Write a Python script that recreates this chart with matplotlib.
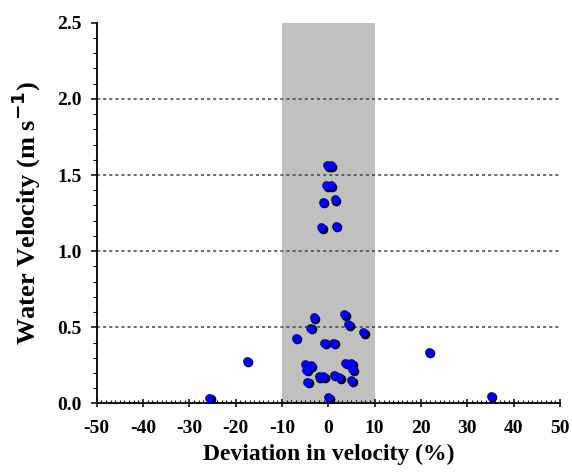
import matplotlib
matplotlib.use("Agg")
import matplotlib.pyplot as plt
import matplotlib.transforms as mtransforms
from matplotlib.ticker import MultipleLocator

deviation = [-25.7, -17.6, 35.1, 21.7, 0.0,
             -3.2, 3.4, -3.9, 4.3, 7.5, -7.0, -0.9, 1.1,
             -5.0, -3.8, -4.8, 3.7, 5.0, 5.2,
             -2.1, -1.1, 1.2, 2.4, -4.6, 4.9,
             -0.2, 0.5, -0.4, 0.5, -1.2, 1.4, -1.5, 1.6]
velocity = [0.038, 0.279, 0.05, 0.34, 0.04,
            0.566, 0.587, 0.497, 0.52, 0.467, 0.432, 0.40, 0.40,
            0.259, 0.25, 0.22, 0.268, 0.264, 0.224,
            0.18, 0.18, 0.187, 0.172, 0.143, 0.152,
            1.565, 1.565, 1.434, 1.434, 1.324, 1.342, 1.156, 1.167]
band = (-10, 10)
grid_levels = [0.5, 1.0, 1.5, 2.0]

plt.rcParams['font.family'] = ['Liberation Serif', 'DejaVu Serif']
plt.rcParams['font.weight'] = 'bold'
plt.rcParams['axes.unicode_minus'] = False

fig = plt.figure(figsize=(5.72, 4.73), dpi=100)
ax = fig.add_axes([0.169, 0.147, 0.810, 0.805])

ax.axvspan(band[0], band[1], color='#c0c0c0', zorder=0, lw=0)
for g in grid_levels:
    ax.axhline(g, color='#444444', ls=(0, (2, 2)), lw=1.1, zorder=1)

shadow = mtransforms.offset_copy(ax.transData, fig=fig, x=1.5, y=-1.5, units='dots')
ax.scatter(deviation, velocity, s=48, c='black', transform=shadow, zorder=3, lw=0)
ax.scatter(deviation, velocity, s=40, c='#0000f0', zorder=4, lw=0)

ax.set_xlim(-50, 50)
ax.set_ylim(0, 2.5)
ax.xaxis.set_major_locator(MultipleLocator(10))
ax.xaxis.set_minor_locator(MultipleLocator(1))
ax.yaxis.set_major_locator(MultipleLocator(0.5))
ax.yaxis.set_minor_locator(MultipleLocator(0.1))
ax.yaxis.set_major_formatter(plt.FuncFormatter(lambda v, p: f"{v:.1f}"))

for s in ['top', 'right']:
    ax.spines[s].set_visible(False)
for s in ['left', 'bottom']:
    ax.spines[s].set_linewidth(1.3)

ax.tick_params(axis='x', which='major', direction='inout', length=6, width=1.1, labelsize=14, pad=9)
ax.tick_params(axis='x', which='minor', direction='in', length=2.5, width=0.8)
ax.tick_params(axis='y', which='major', direction='out', length=4, width=1.1, labelsize=14, pad=7)
ax.tick_params(axis='y', which='minor', direction='out', length=3, width=0.8)

ax.set_xlabel('Deviation in velocity (%)', fontsize=17, fontweight='bold', labelpad=5)
ax.set_ylabel('Water Velocity (m s$^{\\mathbf{-1}}$)', fontsize=19, fontweight='bold', labelpad=10)

fig.savefig('out.png', dpi=100)
